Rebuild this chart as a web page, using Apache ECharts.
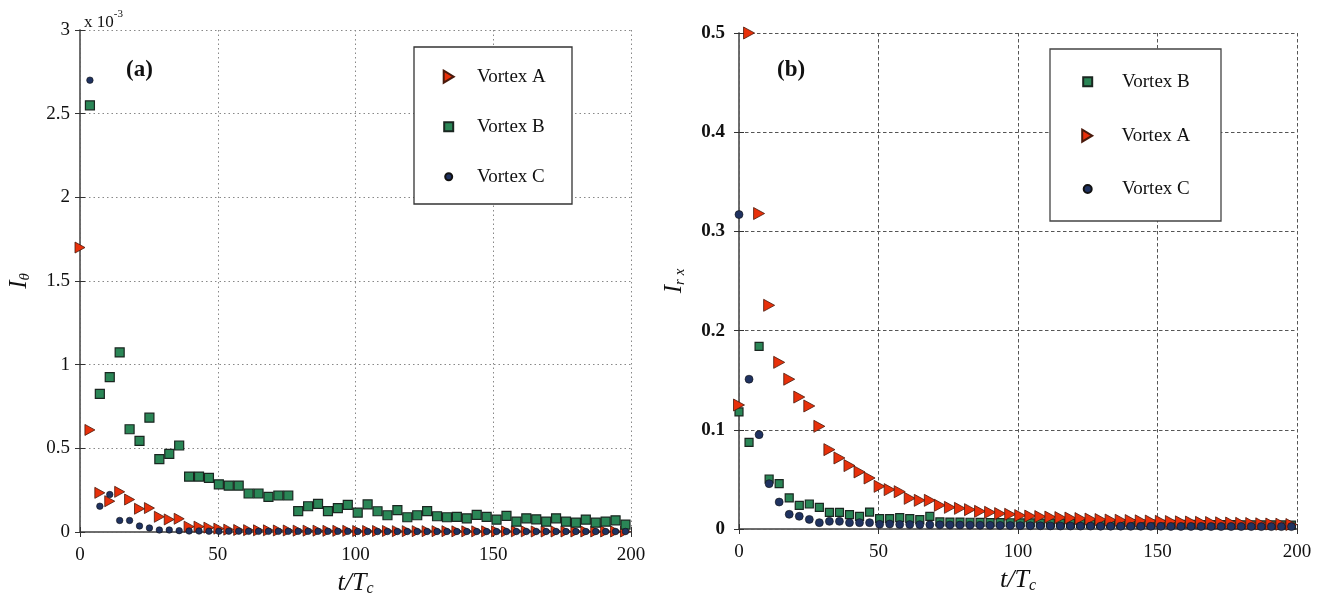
<!DOCTYPE html>
<html>
<head>
<meta charset="utf-8">
<script src="https://cdn.jsdelivr.net/npm/echarts@6/dist/echarts.min.js"></script>
<style>
html,body{margin:0;padding:0;background:#fff;}
#chart{width:1327px;height:607px;}
</style>
</head>
<body>
<div id="chart"></div>
<script>
// time samples t/Tc
const tValues = [0, 3.6, 7.2, 10.8, 14.4, 18, 21.6, 25.2, 28.8, 32.4, 36, 39.6, 43.2, 46.8, 50.4, 54, 57.6, 61.2, 64.8, 68.4, 72, 75.6, 79.2, 82.8, 86.4, 90, 93.6, 97.2, 100.8, 104.4, 108, 111.6, 115.2, 118.8, 122.4, 126, 129.6, 133.2, 136.8, 140.4, 144, 147.6, 151.2, 154.8, 158.4, 162, 165.6, 169.2, 172.8, 176.4, 180, 183.6, 187.2, 190.8, 194.4, 198];

// panel (a): I_theta (x 10^-3)
const thetaA = [1.70, 0.61, 0.234, 0.184, 0.240, 0.194, 0.139, 0.143, 0.091, 0.075, 0.079, 0.032, 0.032, 0.026, 0.020, 0.014, 0.012, 0.011, 0.010, 0.010, 0.009, 0.009, 0.008, 0.008, 0.008, 0.007, 0.007, 0.007, 0.006, 0.006, 0.006, 0.006, 0.005, 0.005, 0.005, 0.005, 0.005, 0.005, 0.004, 0.004, 0.004, 0.004, 0.004, 0.004, 0.004, 0.004, 0.003, 0.003, 0.003, 0.003, 0.003, 0.003, 0.003, 0.003, 0.003, 0.003];
const thetaB = [null, 2.55, 0.826, 0.925, 1.073, 0.614, 0.545, 0.683, 0.436, 0.467, 0.517, 0.331, 0.331, 0.323, 0.285, 0.277, 0.277, 0.230, 0.230, 0.210, 0.218, 0.218, 0.125, 0.154, 0.168, 0.125, 0.143, 0.162, 0.116, 0.165, 0.124, 0.100, 0.131, 0.088, 0.100, 0.125, 0.094, 0.088, 0.090, 0.082, 0.102, 0.090, 0.074, 0.096, 0.062, 0.082, 0.076, 0.062, 0.082, 0.062, 0.056, 0.074, 0.056, 0.062, 0.070, 0.044];
const thetaC = [null, 2.70, 0.154, 0.224, 0.069, 0.069, 0.036, 0.024, 0.012, 0.012, 0.008, 0.006, 0.006, 0.005, 0.005, 0.005, 0.005, 0.004, 0.004, 0.004, 0.004, 0.004, 0.004, 0.004, 0.004, 0.004, 0.004, 0.004, 0.003, 0.003, 0.003, 0.003, 0.003, 0.003, 0.003, 0.003, 0.003, 0.003, 0.003, 0.003, 0.003, 0.003, 0.003, 0.003, 0.003, 0.003, 0.003, 0.003, 0.003, 0.003, 0.003, 0.003, 0.003, 0.003, 0.003, 0.003];

// panel (b): I_rx
const rxB = [0.118, 0.0874, 0.184, 0.0504, 0.0457, 0.0313, 0.0239, 0.0252, 0.0218, 0.0168, 0.0168, 0.0145, 0.0128, 0.0171, 0.0104, 0.0104, 0.0114, 0.0104, 0.0094, 0.0128, 0.0071, 0.0070, 0.0070, 0.0068, 0.0066, 0.0065, 0.0064, 0.0063, 0.0062, 0.0061, 0.0060, 0.0059, 0.0058, 0.0057, 0.0056, 0.0055, 0.0054, 0.0053, 0.0052, 0.0051, 0.0050, 0.0049, 0.0048, 0.0047, 0.0047, 0.0046, 0.0045, 0.0045, 0.0044, 0.0044, 0.0043, 0.0043, 0.0042, 0.0042, 0.0041, 0.0040];
const rxA = [0.125, 0.500, 0.318, 0.2255, 0.168, 0.151, 0.133, 0.124, 0.1035, 0.080, 0.0716, 0.0639, 0.0575, 0.0514, 0.043, 0.0397, 0.0376, 0.0309, 0.0289, 0.0289, 0.0239, 0.0218, 0.0208, 0.0195, 0.0178, 0.0168, 0.0155, 0.0148, 0.0135, 0.013, 0.0125, 0.012, 0.0115, 0.011, 0.0105, 0.010, 0.0095, 0.009, 0.0088, 0.0085, 0.0082, 0.008, 0.0077, 0.0075, 0.0072, 0.007, 0.0067, 0.0065, 0.0062, 0.006, 0.0057, 0.0055, 0.0052, 0.005, 0.0048, 0.0045];
const rxC = [0.317, 0.151, 0.0951, 0.0457, 0.0272, 0.0148, 0.0128, 0.0097, 0.0064, 0.0077, 0.0077, 0.0064, 0.0064, 0.0064, 0.0047, 0.0050, 0.0046, 0.0045, 0.0044, 0.0043, 0.0042, 0.0041, 0.0040, 0.0039, 0.0038, 0.0037, 0.0036, 0.0035, 0.0034, 0.0033, 0.0032, 0.0031, 0.0030, 0.0030, 0.0029, 0.0029, 0.0028, 0.0028, 0.0028, 0.0027, 0.0027, 0.0027, 0.0027, 0.0026, 0.0026, 0.0026, 0.0026, 0.0025, 0.0025, 0.0025, 0.0025, 0.0025, 0.0024, 0.0024, 0.0024, 0.0024];

const seriesNames = ['Vortex A', 'Vortex B', 'Vortex C'];

function pairs(arr) {
  const out = [];
  tValues.forEach((t, i) => { if (arr[i] != null) out.push([t, arr[i]]); });
  return out;
}

const TRI = 'path://M0,0L10,6L0,12Z';
const styleA = { color: '#e8300a', borderColor: '#4a1a0c', borderWidth: 0.8, opacity: 1 };
const styleB = { color: '#2a8656', borderColor: '#1a2620', borderWidth: 1.2, opacity: 1 };
const styleC = { color: '#1f3260', borderColor: '#111111', borderWidth: 0.6, opacity: 1 };
const SERIF = '"Liberation Serif", "DejaVu Serif", serif';

const labelA = { fontFamily: SERIF, fontSize: 19, color: '#111' };
const labelB = { fontFamily: SERIF, fontSize: 19, color: '#111' };

function bottomX(grid, dash, labelStyle, name) {
  return {
    type: 'value', gridIndex: grid, min: 0, max: 200, interval: 50, position: 'bottom',
    axisLine: { show: true, lineStyle: { color: '#666', width: 1.5 } },
    axisTick: { show: true, inside: true, length: 5, lineStyle: { color: '#333' } },
    axisLabel: Object.assign({ margin: 14 }, labelStyle),
    splitLine: { show: true, lineStyle: { type: dash, color: grid === 0 ? '#888' : '#555', width: 1 } },
    name: name, nameLocation: 'middle', nameGap: 37,
    nameTextStyle: {
      rich: {
        m: { fontFamily: SERIF, fontStyle: 'italic', fontSize: 26, color: '#111', lineHeight: 28, verticalAlign: 'middle' },
        s: { fontFamily: SERIF, fontStyle: 'italic', fontSize: 16, color: '#111', lineHeight: 16, verticalAlign: 'bottom' }
      }
    }
  };
}
function topX(grid) {
  return {
    type: 'value', gridIndex: grid, min: 0, max: 200, interval: 50, position: 'top',
    axisLine: { show: true, lineStyle: { color: '#666', width: 1.5 } },
    axisTick: { show: true, inside: true, length: 5, lineStyle: { color: '#333' } },
    axisLabel: { show: false }, splitLine: { show: false }
  };
}
function leftY(grid, max, interval, dash, labelStyle, name, gap) {
  return {
    type: 'value', gridIndex: grid, min: 0, max: max, interval: interval, position: 'left',
    axisLine: { show: true, lineStyle: { color: '#666', width: 1.5 } },
    axisTick: { show: true, inside: true, length: 5, lineStyle: { color: '#333' } },
    axisLabel: Object.assign({ margin: grid === 0 ? 10 : 14 }, labelStyle),
    splitLine: { show: true, lineStyle: { type: dash, color: grid === 0 ? '#888' : '#555', width: 1 } },
    name: name, nameLocation: 'middle', nameGap: gap,
    nameTextStyle: {
      rich: {
        m: { fontFamily: SERIF, fontStyle: 'italic', fontSize: 25, color: '#111', lineHeight: 28, verticalAlign: 'middle' },
        s: { fontFamily: SERIF, fontStyle: 'italic', fontSize: 15, color: '#111', lineHeight: 15, verticalAlign: 'bottom' }
      }
    }
  };
}
function rightY(grid, max, interval) {
  return {
    type: 'value', gridIndex: grid, min: 0, max: max, interval: interval, position: 'right',
    axisLine: { show: true, lineStyle: { color: '#666', width: 1.5 } },
    axisTick: { show: true, inside: true, length: 5, lineStyle: { color: '#333' } },
    axisLabel: { show: false }, splitLine: { show: false }
  };
}

function legendItem(name, icon, size, cx, cy, textStart) {
  const w = Array.isArray(size) ? size[0] : size;
  const h = Array.isArray(size) ? size[1] : size;
  return {
    show: true, orient: 'vertical', left: cx - w / 2, top: cy - 10, padding: 0,
    itemWidth: w, itemHeight: h, selectedMode: false,
    data: [{ name: name, icon: icon }],
    textStyle: { fontFamily: SERIF, fontSize: 19, color: '#111', lineHeight: 20,
      padding: [0, 0, 0, textStart - 5 - (cx + w / 2)] }
  };
}

const option = {
  animation: false,
  backgroundColor: '#fff',
  title: [
    { text: '{a|x 10}{b|-3}', left: 79, top: 4, textStyle: { fontWeight: 'normal', rich: {
        a: { fontFamily: SERIF, fontSize: 17, fontWeight: 'normal', color: '#111', lineHeight: 22, verticalAlign: 'bottom' },
        b: { fontFamily: SERIF, fontSize: 11, fontWeight: 'normal', color: '#111', lineHeight: 22, verticalAlign: 'top' } } } },
    { text: '(a)', left: 121, top: 54, textStyle: { fontFamily: SERIF, fontSize: 23, fontWeight: 'bold', color: '#111' } },
    { text: '(b)', left: 772, top: 54, textStyle: { fontFamily: SERIF, fontSize: 23, fontWeight: 'bold', color: '#111' } }
  ],
  grid: [
    { left: 80, top: 30, width: 551, height: 502 },
    { left: 739, top: 33, width: 558, height: 496 }
  ],
  xAxis: [
    bottomX(0, [1.5, 3], labelA, '{m|t/T}{s|c}'),
    topX(0),
    bottomX(1, [3.5, 2.5], labelB, '{m|t/T}{s|c}'),
    topX(1)
  ],
  yAxis: [
    leftY(0, 3, 0.5, [1.5, 3], labelA, '{m|I}{s|θ}', 47),
    rightY(0, 3, 0.5),
    leftY(1, 0.5, 0.1, [3.5, 2.5], Object.assign({}, labelB, { fontWeight: 'bold' }), '{m|I}{s|r x}', 51),
    rightY(1, 0.5, 0.1)
  ],
  graphic: [
    { type: 'rect', z: 3, shape: { x: 414, y: 47, width: 158, height: 157 },
      style: { fill: '#fff', stroke: '#333', lineWidth: 1.3 } },
    { type: 'rect', z: 3, shape: { x: 1050, y: 49, width: 171, height: 172 },
      style: { fill: '#fff', stroke: '#444', lineWidth: 1.3 } }
  ],
  legend: [
    legendItem(seriesNames[0], TRI, [10, 12], 447.7, 76.7, 476),
    legendItem(seriesNames[1], 'rect', 9, 447.7, 126.7, 476),
    legendItem(seriesNames[2], 'circle', 7, 447.7, 176.7, 476),
    legendItem(seriesNames[1], 'rect', 9, 1086.7, 81.7, 1121),
    legendItem(seriesNames[0], TRI, [11, 12], 1086.7, 135.7, 1121),
    legendItem(seriesNames[2], 'circle', 8, 1086.7, 189, 1121)
  ],
  series: [
    { name: seriesNames[0], type: 'scatter', xAxisIndex: 0, yAxisIndex: 0, symbol: TRI, symbolSize: [10, 11], itemStyle: styleA, data: pairs(thetaA), z: 2 },
    { name: seriesNames[1], type: 'scatter', xAxisIndex: 0, yAxisIndex: 0, symbol: 'rect', symbolSize: 9, itemStyle: styleB, data: pairs(thetaB), z: 2 },
    { name: seriesNames[2], type: 'scatter', xAxisIndex: 0, yAxisIndex: 0, symbol: 'circle', symbolSize: 6.5, itemStyle: styleC, data: pairs(thetaC), z: 2 },
    { name: seriesNames[1], type: 'scatter', xAxisIndex: 2, yAxisIndex: 2, symbol: 'rect', symbolSize: 8, itemStyle: styleB, data: pairs(rxB), z: 2 },
    { name: seriesNames[0], type: 'scatter', xAxisIndex: 2, yAxisIndex: 2, symbol: TRI, symbolSize: [11, 12], itemStyle: styleA, data: pairs(rxA), z: 2 },
    { name: seriesNames[2], type: 'scatter', xAxisIndex: 2, yAxisIndex: 2, symbol: 'circle', symbolSize: 8, itemStyle: styleC, data: pairs(rxC), z: 2 }
  ]
};

const chart = echarts.init(document.getElementById('chart'));
chart.setOption(option);
</script>
</body>
</html>
